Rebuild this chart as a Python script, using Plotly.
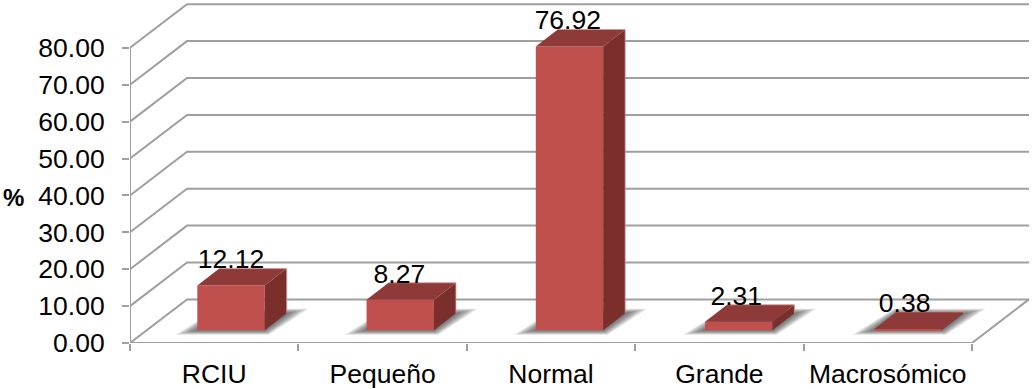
import plotly.graph_objects as go

# Chart data
categories = ["RCIU", "Pequeño", "Normal", "Grande", "Macrosómico"]
values = [12.12, 8.27, 76.92, 2.31, 0.38]
value_ticks = [0, 10, 20, 30, 40, 50, 60, 70, 80]

# Axis scale: pixels per category and per percentage point
PX_X = 168.4
PX_Y = 3.69
BAR_PITCH = 1.005

# Oblique projection of the floor depth, in data units
WALL_DX = 57 / PX_X
WALL_DY = 43.6 / PX_Y
BAR_WIDTH = 0.4
BAR_SHIFT_X = 16.8 / PX_X
BAR_BASE = 12.7 / PX_Y
BAR_DX = 22 / PX_X
BAR_DY = 17 / PX_Y
LABEL_DROP = 6.5 / PX_Y

GRID = "#9F9F9F"
FRONT = "#C0504D"
TOP = "#8E3A38"
SIDE = "#7B2F2D"
EDGE = "rgba(214,150,148,0.75)"
FONT = "Liberation Sans"
FONT_SIZE = 26.5
SHADOW_LAYERS = 9


def joined(polys):
    """Merge polygons or polylines into one coordinate pair split by gaps."""
    xs, ys = [], []
    for poly in polys:
        xs += [p[0] for p in poly] + [None]
        ys += [p[1] for p in poly] + [None]
    return xs, ys


left = [i * BAR_PITCH + BAR_SHIFT_X - BAR_WIDTH / 2 for i in range(len(values))]
right = [x + BAR_WIDTH for x in left]
tops = [v + BAR_BASE for v in values]

fig = go.Figure()

# Floor and wall grid: diagonal run from the front axis, then along the back wall
grid_paths = [
    [(-0.5, v), (-0.5 + WALL_DX, v + WALL_DY), (4.5 + WALL_DX, v + WALL_DY)]
    for v in value_ticks
]
grid_paths.append([(4.5 + WALL_DX, WALL_DY), (4.5, 0)])
gx, gy = joined(grid_paths)
fig.add_trace(go.Scatter(x=gx, y=gy, mode="lines", line=dict(color=GRID, width=2),
                         cliponaxis=False, hoverinfo="skip", zorder=0))

# Front axis lines
ax, ay = joined([[(-0.5, 80), (-0.5, 0), (4.5, 0)]])
fig.add_trace(go.Scatter(x=ax, y=ay, mode="lines", line=dict(color=GRID, width=2),
                         cliponaxis=False, hoverinfo="skip", zorder=0))

# Soft floor shadows: stacked translucent footprints growing outward
for layer in range(SHADOW_LAYERS):
    t = 1 - layer / SHADOW_LAYERS
    grow_x = t * 22 / PX_X
    grow_y = t * 4.5 / PX_Y
    polys = []
    for x0, x1 in zip(left, right):
        polys.append([
            (x0 - grow_x, BAR_BASE - grow_y),
            (x1 + grow_x * 0.2, BAR_BASE - grow_y),
            (x1 + BAR_DX + grow_x, BAR_BASE + BAR_DY + grow_y),
            (x0 + BAR_DX - grow_x * 0.1, BAR_BASE + BAR_DY + grow_y),
            (x0 - grow_x, BAR_BASE - grow_y),
        ])
    sx, sy = joined(polys)
    fig.add_trace(go.Scatter(x=sx, y=sy, mode="lines", fill="toself",
                             fillcolor="rgba(50,50,50,0.10)", line=dict(width=0),
                             hoverinfo="skip", zorder=1))

# Front faces
fig.add_trace(go.Bar(x=[a + BAR_WIDTH / 2 for a in left], y=values, base=BAR_BASE,
                     width=BAR_WIDTH, marker=dict(color=FRONT, line=dict(width=0)),
                     hoverinfo="skip", zorder=2))

# Side faces
sx, sy = joined([
    [(x1, BAR_BASE), (x1 + BAR_DX, BAR_BASE + BAR_DY), (x1 + BAR_DX, t + BAR_DY), (x1, t), (x1, BAR_BASE)]
    for x1, t in zip(right, tops)
])
fig.add_trace(go.Scatter(x=sx, y=sy, mode="lines", fill="toself", fillcolor=SIDE,
                         line=dict(width=0), hoverinfo="skip", zorder=3))

# Top faces
tx, ty = joined([
    [(x0, t), (x1, t), (x1 + BAR_DX, t + BAR_DY), (x0 + BAR_DX, t + BAR_DY), (x0, t)]
    for x0, x1, t in zip(left, right, tops)
])
fig.add_trace(go.Scatter(x=tx, y=ty, mode="lines", fill="toself", fillcolor=TOP,
                         line=dict(width=0), hoverinfo="skip", zorder=3))

# Pale rim along the outer back edges
ex, ey = joined([
    [(x0 + BAR_DX, t + BAR_DY), (x1 + BAR_DX, t + BAR_DY), (x1 + BAR_DX, BAR_BASE + BAR_DY)]
    for x0, x1, t in zip(left, right, tops)
])
fig.add_trace(go.Scatter(x=ex, y=ey, mode="lines", line=dict(color=EDGE, width=1),
                         hoverinfo="skip", zorder=3))

# Value labels, overlapping the back edge of each bar top
fig.add_trace(go.Scatter(
    x=[i + BAR_SHIFT_X for i in range(len(values))],
    y=[t + BAR_DY - LABEL_DROP for t in tops],
    mode="text",
    text=[f"{v:.2f}" for v in values],
    textposition="top center",
    textfont=dict(family=FONT, size=FONT_SIZE, color="#000000"),
    cliponaxis=False,
    hoverinfo="skip",
    zorder=4,
))

fig.update_layout(
    width=1032,
    height=389,
    margin=dict(l=130, r=0, t=0, b=46, pad=0),
    paper_bgcolor="#FFFFFF",
    plot_bgcolor="#FFFFFF",
    showlegend=False,
    font=dict(family=FONT, size=FONT_SIZE, color="#000000"),
    xaxis=dict(
        range=[-0.5, -0.5 + 902 / PX_X],
        tickmode="array",
        tickvals=list(range(len(categories))),
        ticktext=categories,
        ticks="",
        showgrid=False,
        zeroline=False,
        showline=False,
        ticklabelstandoff=12,
        minor=dict(tick0=-0.5, dtick=1, ticks="outside", ticklen=7, tickwidth=2,
                   tickcolor=GRID, showgrid=False),
    ),
    yaxis=dict(
        range=[0, 343 / PX_Y],
        tickmode="array",
        tickvals=value_ticks,
        tickformat=".2f",
        ticks="outside",
        ticklen=7,
        tickwidth=2,
        tickcolor=GRID,
        showgrid=False,
        zeroline=False,
        showline=False,
        ticklabelstandoff=12,
    ),
    annotations=[dict(
        text="<b>%</b>",
        xref="paper",
        yref="paper",
        x=-117 / 902,
        y=(343 - 198) / 343,
        xanchor="center",
        yanchor="middle",
        showarrow=False,
        font=dict(family=FONT, size=24, color="#000000"),
    )],
)

fig.write_html("out.html", config=dict(displayModeBar=False))
